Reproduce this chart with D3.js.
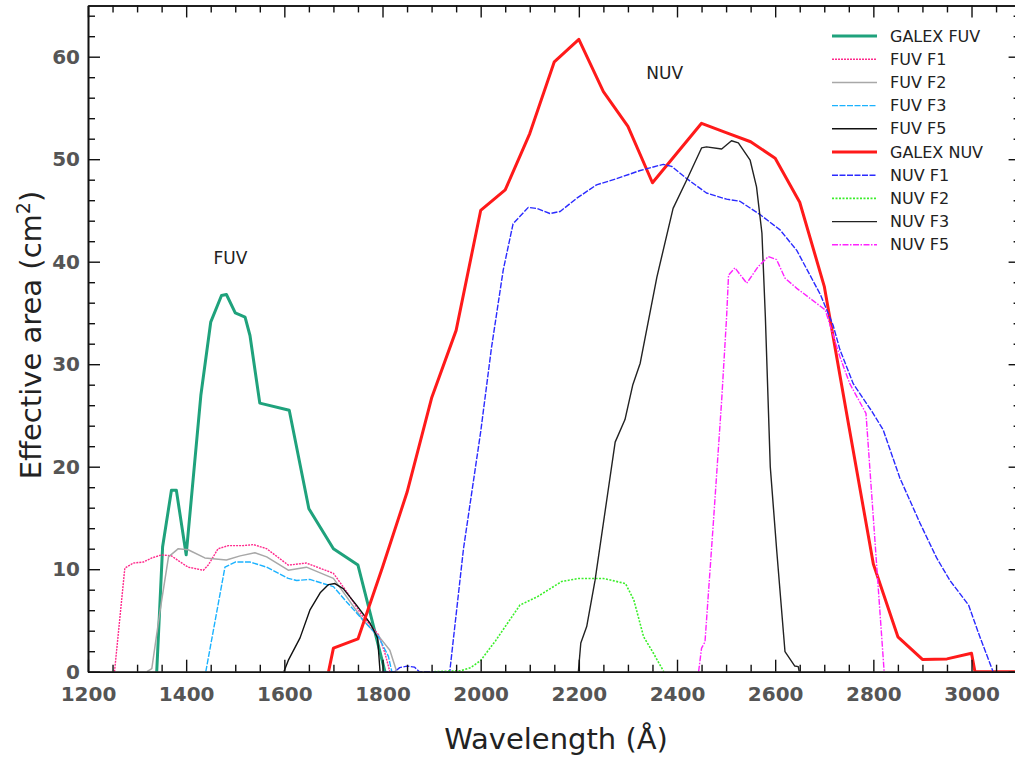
<!DOCTYPE html>
<html><head><meta charset="utf-8">
<script src="https://cdn.jsdelivr.net/npm/d3@7"></script>
<style>body{margin:0;background:#fff}</style>
</head><body>
<svg id="chart" width="1015" height="757"></svg>
<script>
// ---- data (wavelength Å, effective area cm²) ----
const galexFUV = [[1340,0],[1352,12.2],[1370,17.7],[1380,17.7],[1400,11.4],[1430,27],[1450,34.1],[1472,36.7],[1482,36.8],[1500,35.0],[1520,34.6],[1530,32.8],[1550,26.2],[1610,25.5],[1650,15.9],[1700,12.0],[1750,10.4],[1775,5.7],[1805,0]];
const fuvF1 = [[1254,0],[1275,10.1],[1292,10.6],[1313,10.7],[1330,11.1],[1350,11.4],[1370,11.3],[1388,10.7],[1404,10.2],[1435,9.9],[1445,10.4],[1465,12.0],[1486,12.3],[1516,12.3],[1537,12.4],[1564,12.0],[1608,10.4],[1645,10.6],[1700,9.6],[1727,7.8],[1758,5.5],[1792,3.6],[1805,1.8],[1815,0]];
const fuvF2 = [[1320,0],[1330,0.3],[1347,6],[1364,11.2],[1384,12.0],[1404,11.9],[1438,11.1],[1482,10.9],[1510,11.3],[1540,11.6],[1564,11.2],[1608,9.9],[1645,10.2],[1700,9.1],[1727,7.3],[1761,5.0],[1795,3.3],[1815,2.1],[1829,0]];
const fuvF3 = [[1440,0],[1479,10.2],[1500,10.7],[1530,10.7],[1564,10.2],[1608,9.1],[1625,8.9],[1652,9.0],[1700,8.3],[1727,6.8],[1761,5.0],[1792,3.4],[1812,1.5],[1819,0]];
const fuvF5 = [[1599,0],[1608,1.1],[1632,3.3],[1652,6.0],[1673,7.7],[1690,8.5],[1703,8.6],[1720,8.1],[1747,6.5],[1775,4.7],[1790,3.3],[1795,0]];
const galexNUV = [[1690,0],[1700,2.3],[1750,3.2],[1800,10.2],[1850,17.5],[1900,26.7],[1950,33.3],[2000,45.0],[2050,47.0],[2100,52.5],[2150,59.5],[2200,61.7],[2250,56.6],[2300,53.2],[2350,47.7],[2400,50.6],[2450,53.5],[2500,52.6],[2550,51.7],[2600,50.1],[2650,45.8],[2700,37.6],[2750,24.0],[2800,10.5],[2850,3.4],[2900,1.2],[2950,1.25],[3000,1.8],[3007,0],[3100,0]];
const nuvF1 = [[1800,0],[1825,0],[1835,0.4],[1850,0.55],[1865,0.45],[1875,0],[1937,0],[1965,12],[2000,23.4],[2022,31.6],[2046,39.2],[2066,43.7],[2097,45.3],[2114,45.2],[2141,44.7],[2162,44.9],[2196,46.2],[2236,47.5],[2277,48.1],[2325,48.9],[2372,49.5],[2389,49.3],[2420,48.1],[2460,46.7],[2501,46.1],[2528,45.9],[2569,44.6],[2610,43.1],[2644,41.1],[2692,36.8],[2718,33.8],[2732,31.4],[2759,28.1],[2797,25.4],[2820,23.6],[2854,18.9],[2895,14.5],[2929,11.1],[2956,8.9],[2994,6.5],[3017,3.4],[3044,0]];
const nuvF2 = [[1905,0],[1960,0.1],[1980,0.4],[2000,1.1],[2030,3.0],[2080,6.5],[2115,7.3],[2165,8.8],[2200,9.1],[2250,9.1],[2295,8.6],[2312,7.0],[2332,3.4],[2352,1.8],[2373,0]];
const nuvF3 = [[2199,0],[2204,2.8],[2216,4.4],[2233,8.9],[2257,16.8],[2274,22.4],[2294,24.6],[2310,28],[2325,30.1],[2359,38.5],[2392,45.2],[2420,48],[2450,51.1],[2460,51.2],[2491,51.0],[2511,51.8],[2525,51.6],[2549,49.9],[2562,47.3],[2573,42.8],[2580,34.6],[2590,20],[2603,11.9],[2620,1.95],[2640,0.55],[2647,0.5],[2649,0]];
const nuvF5 = [[2444,0],[2450,2.3],[2457,2.9],[2474,14.5],[2491,26.5],[2501,34.6],[2505,38.7],[2518,39.4],[2542,37.9],[2565,39.5],[2586,40.5],[2603,40.2],[2620,38.4],[2644,37.4],[2702,35.3],[2732,30.7],[2752,28.1],[2785,25.2],[2822,0]];

const seriesNames = ["GALEX FUV","FUV F1","FUV F2","FUV F3","FUV F5","GALEX NUV","NUV F1","NUV F2","NUV F3","NUV F5"];
const seriesData = [galexFUV,fuvF1,fuvF2,fuvF3,fuvF5,galexNUV,nuvF1,nuvF2,nuvF3,nuvF5];
const xTicks = [1200,1400,1600,1800,2000,2200,2400,2600,2800,3000];
const yTicks = [0,10,20,30,40,50,60];
const annotations = [{text:"FUV", x:1490, y:39.8},{text:"NUV", x:2375, y:57.8}];

// ---- styles ----
const styles = [
  {color:"#1fa27c", width:3,   dash:null},
  {color:"#ff2a8c", width:1.4, dash:"2,1"},
  {color:"#a8a8a8", width:1.5, dash:null},
  {color:"#1ab2ff", width:1.4, dash:"6,1.5"},
  {color:"#111111", width:1.4, dash:null},
  {color:"#ff1a1a", width:3,   dash:null},
  {color:"#2a2aff", width:1.4, dash:"6,1.5"},
  {color:"#3aee2a", width:1.6, dash:"2,1.5"},
  {color:"#222222", width:1.4, dash:null},
  {color:"#ff22ff", width:1.4, dash:"6,1.5,1.5,1.5"}
];

const svg = d3.select("#chart");
const L = 88, R = 1020.6, T = 5.45, B = 671.7;
const x = d3.scaleLinear().domain([1200,3100]).range([L,R]);
const y = d3.scaleLinear().domain([0,65]).range([B,T]);

svg.append("defs").append("clipPath").attr("id","clip")
  .append("rect").attr("x",L).attr("y",T).attr("width",R-L).attr("height",B-T);

const line = d3.line().x(d=>x(d[0])).y(d=>y(d[1]));
const g = svg.append("g").attr("clip-path","url(#clip)");
seriesData.forEach((d,i)=>{
  const s = styles[i];
  g.append("path").datum(d).attr("d",line)
    .attr("fill","none").attr("stroke",s.color).attr("stroke-width",s.width)
    .attr("stroke-linejoin","round").attr("stroke-dasharray",s.dash);
});

// ---- axes ----
const minorX = d3.range(1200,3101,50).filter(v=>v%200!==0);
const minorY = d3.range(0,65.1,2).filter(v=>v%10!==0);
const majX = d3.range(1200,3101,200);
function styleAxis(sel){
  sel.select(".domain").attr("stroke","#111").attr("stroke-width",1.6);
  sel.selectAll(".tick line").attr("stroke","#111").attr("stroke-width",1.4);
}
const tickFont = sel => sel.selectAll("text").attr("font-family","DejaVu Sans").attr("font-weight","bold").attr("font-size","20px").attr("fill","#555");

svg.append("g").attr("transform",`translate(0,${B})`)
  .call(d3.axisBottom(x).tickValues(xTicks).tickFormat(d3.format("d")).tickSizeInner(-12).tickSizeOuter(0).tickPadding(15))
  .call(styleAxis).call(tickFont);
svg.append("g").attr("transform",`translate(0,${B})`)
  .call(d3.axisBottom(x).tickValues(minorX).tickFormat("").tickSizeInner(-7).tickSizeOuter(0))
  .call(styleAxis);
svg.append("g").attr("transform",`translate(0,${T})`)
  .call(d3.axisTop(x).tickValues(majX).tickFormat("").tickSizeInner(-12).tickSizeOuter(0))
  .call(styleAxis);
svg.append("g").attr("transform",`translate(0,${T})`)
  .call(d3.axisTop(x).tickValues(minorX).tickFormat("").tickSizeInner(-7).tickSizeOuter(0))
  .call(styleAxis);
svg.append("g").attr("transform",`translate(${L},0)`)
  .call(d3.axisLeft(y).tickValues(yTicks).tickSizeInner(-12).tickSizeOuter(0).tickPadding(8))
  .call(styleAxis).call(tickFont);
svg.append("g").attr("transform",`translate(${L},0)`)
  .call(d3.axisLeft(y).tickValues(minorY).tickFormat("").tickSizeInner(-7).tickSizeOuter(0))
  .call(styleAxis);
svg.append("g").attr("transform",`translate(${R},0)`)
  .call(d3.axisRight(y).tickValues(yTicks).tickFormat("").tickSizeInner(-12).tickSizeOuter(0))
  .call(styleAxis);
svg.append("g").attr("transform",`translate(${R},0)`)
  .call(d3.axisRight(y).tickValues(minorY).tickFormat("").tickSizeInner(-7).tickSizeOuter(0))
  .call(styleAxis);

// ---- titles ----
svg.append("text").attr("x",556).attr("y",749).attr("text-anchor","middle")
  .attr("font-family","DejaVu Sans").attr("font-size","29px").attr("fill","#222")
  .text("Wavelength (Å)");
const yt = svg.append("text").attr("transform","translate(41,335) rotate(-90)").attr("text-anchor","middle")
  .attr("font-family","DejaVu Sans").attr("font-size","29px").attr("fill","#222");
yt.append("tspan").text("Effective area (cm");
yt.append("tspan").attr("font-size","19px").attr("dy","-11").text("2");
yt.append("tspan").attr("dy","11").text(")");

// ---- annotations ----
annotations.forEach(a=>{
  svg.append("text").attr("x",x(a.x)).attr("y",y(a.y)).attr("text-anchor","middle")
    .attr("font-family","DejaVu Sans").attr("font-size","17px").attr("fill","#222").text(a.text);
});

// ---- legend ----
const lg = svg.append("g");
seriesNames.forEach((n,i)=>{
  const s = styles[i], yy = 36 + i*23.2;
  lg.append("line").attr("x1",832).attr("x2",877).attr("y1",yy).attr("y2",yy)
    .attr("stroke",s.color).attr("stroke-width",s.width).attr("stroke-dasharray",s.dash);
  lg.append("text").attr("x",890).attr("y",yy+5.5)
    .attr("font-family","DejaVu Sans").attr("font-size","16px").attr("fill","#222").text(n);
});
</script>
</body></html>
